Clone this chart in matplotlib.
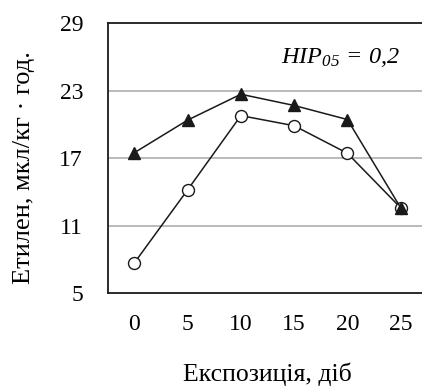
import numpy as np
import matplotlib.pyplot as plt

plt.rcParams['font.family'] = ['Liberation Serif', 'DejaVu Serif']
plt.rcParams['mathtext.fontset'] = 'custom'
plt.rcParams['mathtext.rm'] = 'Liberation Serif:italic'
plt.rcParams['mathtext.it'] = 'Liberation Serif:italic'

# data
days = [0, 5, 10, 15, 20, 25]
triangles = [17.5, 20.4, 22.7, 21.7, 20.45, 12.6]
circles = [7.7, 14.2, 20.8, 19.9, 17.45, 12.6]
y_ticks = [5, 11, 17, 23, 29]

fig = plt.figure(figsize=(4.22, 3.9), dpi=100)
ax = fig.add_axes([0.256, 0.248, 0.744, 0.692])

# grid lines
for y in y_ticks[1:-1]:
    ax.axhline(y, color='#b4b4b4', lw=1.3, zorder=1)

ax.plot(days, circles, color='#1a1a1a', lw=1.1, marker='o', ms=8.6,
        mfc='white', mec='#1a1a1a', mew=1.0, zorder=3)
ax.plot(days, triangles, color='#1a1a1a', lw=1.1, marker='^', ms=8.5,
        mfc='#1a1a1a', mec='#1a1a1a', zorder=4)

ax.set_xlim(-2.47, 27.0)
ax.set_ylim(5, 29)
ax.set_xticks(days)
ax.set_yticks(y_ticks)
ax.tick_params(length=0, labelsize=17, pad=15)
ax.tick_params(axis='y', pad=18)

for s in ['left', 'bottom', 'top']:
    ax.spines[s].set_linewidth(1.3)
    ax.spines[s].set_color('#1a1a1a')
ax.spines['right'].set_visible(False)

ax.text(0.552, 0.875, r'$HIP_{05}\,=\,0{,}2$',
        transform=ax.transAxes, fontsize=17.5, ha='left', va='center')

fig.text(0.633, 0.04, 'Експозиція, діб', fontsize=18.5, ha='center', va='center')
fig.text(0.058, 0.57, 'Етилен, мкл/кг · год.', fontsize=19, rotation=90,
         ha='center', va='center')

fig.savefig('out.png', dpi=100)
